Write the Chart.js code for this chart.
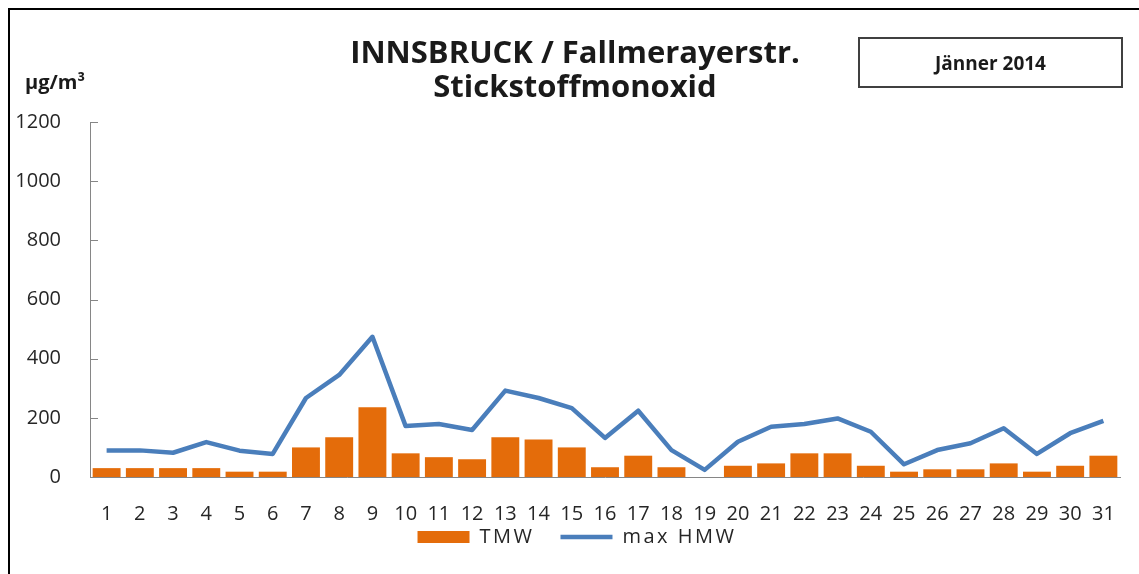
<!DOCTYPE html>
<html>
<head>
<meta charset="utf-8">
<script src="https://cdn.jsdelivr.net/npm/chart.js@4"></script>
<style>
  html, body { margin: 0; padding: 0; background: #fff; overflow: hidden; }
  body { width: 1139px; height: 574px; position: relative; font-family: 'Open Sans', sans-serif; }
  #frame { position: absolute; left: 8px; top: 8px; width: 1300px; height: 800px; border-left: 2px solid #000; border-top: 2px solid #000; }
  #wrap { position: absolute; left: 0; top: 0; width: 1139px; height: 574px; }
  #title { position: absolute; left: 0; width: 1150px; top: 34px; text-align: center; font-weight: bold; font-size: 31px; line-height: 34px; color: #1a1a1a; }
  #month { position: absolute; left: 858px; top: 37px; width: 261px; height: 47px; border: 2px solid #404040; display: flex; align-items: center; justify-content: center; font-weight: bold; font-size: 19px; color: #1a1a1a; }
  #unit { position: absolute; left: 25px; top: 68px; font-weight: bold; font-size: 20px; color: #1a1a1a; }
</style>
</head>
<body>
<div id="frame"></div>
<div id="wrap"><canvas id="myChart"></canvas></div>
<div id="title">INNSBRUCK / Fallmerayerstr.<br>Stickstoffmonoxid</div>
<div id="month">Jänner 2014</div>
<div id="unit">µg/m³</div>
<script>
let days = ['1', '2', '3', '4', '5', '6', '7', '8', '9', '10', '11', '12', '13', '14', '15', '16',
  '17', '18', '19', '20', '21', '22', '23', '24', '25', '26', '27', '28', '29', '30', '31']
let tmw = [30, 30, 30, 30, 18, 18, 100, 134, 236, 80, 67, 60, 134, 127, 100, 33,
  72, 33, 0, 38, 46, 80, 80, 38, 18, 26, 26, 46, 18, 38, 72]
let maxHmw = [90, 90, 82, 118, 89, 78, 267, 345, 474, 172, 179, 159, 292, 267, 233, 132,
  224, 91, 24, 119, 170, 179, 198, 153, 43, 91, 114, 165, 78, 148, 190]
let yTicks = [0, 200, 400, 600, 800, 1000, 1200]

const axisGray = '#868686'
const textColor = '#262626'
const legendSpacing = '2.5px'

// tick marks point into the plot area, like the excel original
const innerTicks = {
  id: 'innerTicks',
  afterDraw(chart) {
    let ctx = chart.ctx
    let y = chart.scales.y
    ctx.save()
    ctx.strokeStyle = axisGray
    ctx.lineWidth = 1
    yTicks.forEach((v) => {
      let py = Math.round(y.getPixelForValue(v)) + 0.5
      ctx.beginPath()
      ctx.moveTo(y.right, py)
      ctx.lineTo(y.right + 8, py)
      ctx.stroke()
    })
    ctx.restore()
  },
}

// excel spreads the legend text out and sits it close under the day labels
const legendTweak = {
  id: 'legendTweak',
  beforeLayout(chart) {
    let lg = chart.legend
    if (!lg || lg._tweaked) return
    lg._tweaked = true
    let fit = lg.fit.bind(lg)
    let draw = lg.draw.bind(lg)
    lg.fit = function () {
      chart.ctx.letterSpacing = legendSpacing
      fit()
      chart.ctx.letterSpacing = '0px'
      this.height = 20
    }
    lg.draw = function (area) {
      chart.ctx.letterSpacing = legendSpacing
      draw(area)
      chart.ctx.letterSpacing = '0px'
    }
  },
  afterLayout(chart) {
    let lg = chart.legend
    lg.top = chart.chartArea.bottom + 24
    lg.bottom = chart.height
    lg.height = lg.bottom - lg.top
    lg.left += 17
    lg.right += 17
  },
}

const config = {
  type: 'bar',
  data: {
    labels: days,
    datasets: [
      {
        label: 'TMW',
        data: tmw,
        backgroundColor: '#E46C0A',
        borderWidth: 0,
        barPercentage: 0.84,
        categoryPercentage: 1,
        pointStyle: 'rect',
        order: 1,
      },
      {
        type: 'line',
        label: 'max HMW',
        data: maxHmw,
        borderColor: '#4A7EBB',
        backgroundColor: '#4A7EBB',
        borderWidth: 4.5,
        borderJoinStyle: 'round',
        pointRadius: 0,
        pointStyle: 'line',
        tension: 0,
        order: 0,
      },
    ],
  },
  options: {
    responsive: true,
    maintainAspectRatio: false,
    animation: false,
    layout: { padding: { left: 0, right: 19, top: 122, bottom: 27 } },
    scales: {
      x: {
        grid: { display: false },
        border: { display: true, color: axisGray, width: 1 },
        ticks: { color: textColor, font: { family: 'Open Sans', size: 20 }, padding: 17, maxRotation: 0, autoSkip: false },
        afterFit: (scale) => { scale.height = 50 },
      },
      y: {
        min: 0,
        max: 1200,
        grid: { display: false },
        border: { display: true, color: axisGray, width: 1 },
        ticks: {
          stepSize: 200,
          color: textColor,
          font: { family: 'Open Sans', size: 20 },
          padding: 21,
          callback: (v) => String(v),
        },
        afterFit: (scale) => { scale.width = 90 },
      },
    },
    plugins: {
      tooltip: { enabled: false },
      legend: {
        position: 'bottom',
        labels: {
          usePointStyle: true,
          pointStyleWidth: 52,
          boxHeight: 12,
          padding: 26,
          color: textColor,
          font: { family: 'Open Sans', size: 20 },
          sort: (a, b) => a.datasetIndex - b.datasetIndex,
        },
      },
    },
  },
  plugins: [innerTicks, legendTweak],
}

var myChart = new Chart(document.getElementById('myChart'), config)
</script>
</body>
</html>
